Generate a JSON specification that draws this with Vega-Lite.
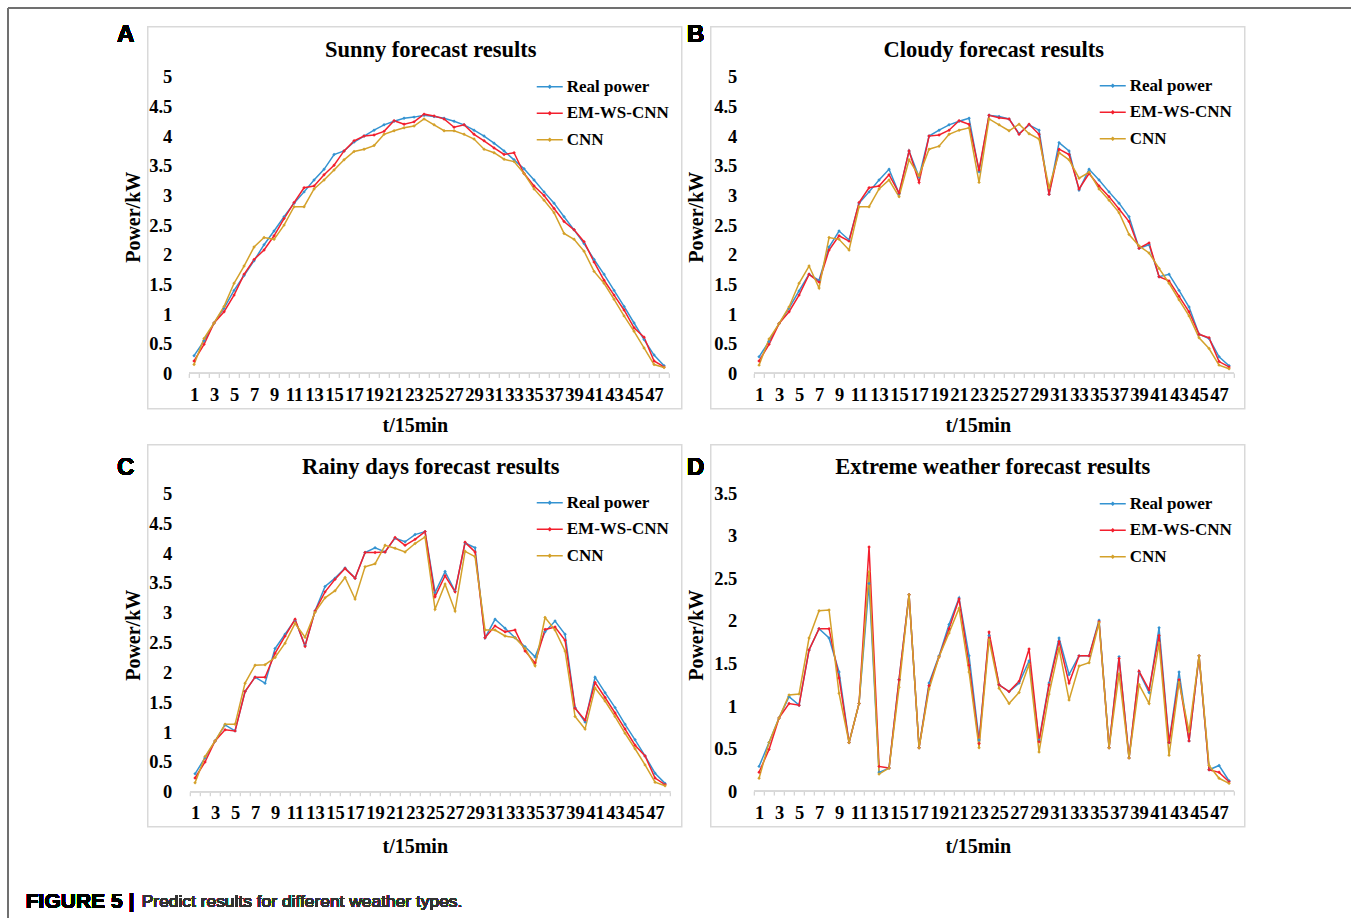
{
"$schema": "https://vega.github.io/schema/vega-lite/v6.json",
"background": "white",
"padding": {"left": 6.75, "top": 5.75, "right": 0, "bottom": 0},
"config": {
  "view": {"stroke": "#d9d9d9", "strokeWidth": 1.5},
  "axis": {"grid": false, "domain": false, "labelOverlap": false, "labelFont": "Liberation Serif", "labelFontWeight": "bold", "labelFontSize": 18.5, "labelColor": "black", "titleFont": "Liberation Serif", "titleFontWeight": "bold", "titleFontSize": 20, "titleColor": "black"},
  "legend": {"labelFont": "Liberation Serif", "labelFontWeight": "bold", "labelFontSize": 17, "labelColor": "black"}
},
"resolve": {"scale": {"color": "independent"}, "legend": {"color": "independent"}},
"columns": 2,
"spacing": {"row": 36, "column": 29},
"bounds": "flush",
"datasets": {
"A": [
{"t":1,"s":"Real power","v":0.30},{"t":2,"s":"Real power","v":0.55},{"t":3,"s":"Real power","v":0.85},{"t":4,"s":"Real power","v":1.10},{"t":5,"s":"Real power","v":1.40},{"t":6,"s":"Real power","v":1.65},{"t":7,"s":"Real power","v":1.90},{"t":8,"s":"Real power","v":2.17},{"t":9,"s":"Real power","v":2.40},{"t":10,"s":"Real power","v":2.64},
{"t":11,"s":"Real power","v":2.87},{"t":12,"s":"Real power","v":3.06},{"t":13,"s":"Real power","v":3.26},{"t":14,"s":"Real power","v":3.44},{"t":15,"s":"Real power","v":3.69},{"t":16,"s":"Real power","v":3.75},{"t":17,"s":"Real power","v":3.90},{"t":18,"s":"Real power","v":4.00},{"t":19,"s":"Real power","v":4.10},{"t":20,"s":"Real power","v":4.19},
{"t":21,"s":"Real power","v":4.25},{"t":22,"s":"Real power","v":4.30},{"t":23,"s":"Real power","v":4.32},{"t":24,"s":"Real power","v":4.35},{"t":25,"s":"Real power","v":4.33},{"t":26,"s":"Real power","v":4.30},{"t":27,"s":"Real power","v":4.25},{"t":28,"s":"Real power","v":4.19},{"t":29,"s":"Real power","v":4.10},{"t":30,"s":"Real power","v":4.00},
{"t":31,"s":"Real power","v":3.88},{"t":32,"s":"Real power","v":3.75},{"t":33,"s":"Real power","v":3.60},{"t":34,"s":"Real power","v":3.45},{"t":35,"s":"Real power","v":3.26},{"t":36,"s":"Real power","v":3.06},{"t":37,"s":"Real power","v":2.87},{"t":38,"s":"Real power","v":2.64},{"t":39,"s":"Real power","v":2.42},{"t":40,"s":"Real power","v":2.19},
{"t":41,"s":"Real power","v":1.92},{"t":42,"s":"Real power","v":1.67},{"t":43,"s":"Real power","v":1.40},{"t":44,"s":"Real power","v":1.13},{"t":45,"s":"Real power","v":0.85},{"t":46,"s":"Real power","v":0.57},{"t":47,"s":"Real power","v":0.31},{"t":48,"s":"Real power","v":0.13},
{"t":1,"s":"EM-WS-CNN","v":0.21},{"t":2,"s":"EM-WS-CNN","v":0.49},{"t":3,"s":"EM-WS-CNN","v":0.85},{"t":4,"s":"EM-WS-CNN","v":1.04},{"t":5,"s":"EM-WS-CNN","v":1.32},{"t":6,"s":"EM-WS-CNN","v":1.67},{"t":7,"s":"EM-WS-CNN","v":1.92},{"t":8,"s":"EM-WS-CNN","v":2.08},{"t":9,"s":"EM-WS-CNN","v":2.32},{"t":10,"s":"EM-WS-CNN","v":2.61},
{"t":11,"s":"EM-WS-CNN","v":2.88},{"t":12,"s":"EM-WS-CNN","v":3.13},{"t":13,"s":"EM-WS-CNN","v":3.16},{"t":14,"s":"EM-WS-CNN","v":3.35},{"t":15,"s":"EM-WS-CNN","v":3.51},{"t":16,"s":"EM-WS-CNN","v":3.75},{"t":17,"s":"EM-WS-CNN","v":3.92},{"t":18,"s":"EM-WS-CNN","v":4.00},{"t":19,"s":"EM-WS-CNN","v":4.02},{"t":20,"s":"EM-WS-CNN","v":4.08},
{"t":21,"s":"EM-WS-CNN","v":4.26},{"t":22,"s":"EM-WS-CNN","v":4.20},{"t":23,"s":"EM-WS-CNN","v":4.24},{"t":24,"s":"EM-WS-CNN","v":4.37},{"t":25,"s":"EM-WS-CNN","v":4.34},{"t":26,"s":"EM-WS-CNN","v":4.29},{"t":27,"s":"EM-WS-CNN","v":4.15},{"t":28,"s":"EM-WS-CNN","v":4.19},{"t":29,"s":"EM-WS-CNN","v":4.03},{"t":30,"s":"EM-WS-CNN","v":3.92},
{"t":31,"s":"EM-WS-CNN","v":3.80},{"t":32,"s":"EM-WS-CNN","v":3.69},{"t":33,"s":"EM-WS-CNN","v":3.72},{"t":34,"s":"EM-WS-CNN","v":3.37},{"t":35,"s":"EM-WS-CNN","v":3.16},{"t":36,"s":"EM-WS-CNN","v":3.00},{"t":37,"s":"EM-WS-CNN","v":2.78},{"t":38,"s":"EM-WS-CNN","v":2.56},{"t":39,"s":"EM-WS-CNN","v":2.42},{"t":40,"s":"EM-WS-CNN","v":2.22},
{"t":41,"s":"EM-WS-CNN","v":1.88},{"t":42,"s":"EM-WS-CNN","v":1.57},{"t":43,"s":"EM-WS-CNN","v":1.32},{"t":44,"s":"EM-WS-CNN","v":1.07},{"t":45,"s":"EM-WS-CNN","v":0.77},{"t":46,"s":"EM-WS-CNN","v":0.61},{"t":47,"s":"EM-WS-CNN","v":0.21},{"t":48,"s":"EM-WS-CNN","v":0.11},
{"t":1,"s":"CNN","v":0.15},{"t":2,"s":"CNN","v":0.59},{"t":3,"s":"CNN","v":0.85},{"t":4,"s":"CNN","v":1.13},{"t":5,"s":"CNN","v":1.52},{"t":6,"s":"CNN","v":1.81},{"t":7,"s":"CNN","v":2.13},{"t":8,"s":"CNN","v":2.29},{"t":9,"s":"CNN","v":2.26},{"t":10,"s":"CNN","v":2.50},
{"t":11,"s":"CNN","v":2.81},{"t":12,"s":"CNN","v":2.81},{"t":13,"s":"CNN","v":3.11},{"t":14,"s":"CNN","v":3.26},{"t":15,"s":"CNN","v":3.43},{"t":16,"s":"CNN","v":3.60},{"t":17,"s":"CNN","v":3.74},{"t":18,"s":"CNN","v":3.78},{"t":19,"s":"CNN","v":3.84},{"t":20,"s":"CNN","v":4.03},
{"t":21,"s":"CNN","v":4.09},{"t":22,"s":"CNN","v":4.14},{"t":23,"s":"CNN","v":4.17},{"t":24,"s":"CNN","v":4.29},{"t":25,"s":"CNN","v":4.19},{"t":26,"s":"CNN","v":4.09},{"t":27,"s":"CNN","v":4.09},{"t":28,"s":"CNN","v":4.03},{"t":29,"s":"CNN","v":3.95},{"t":30,"s":"CNN","v":3.78},
{"t":31,"s":"CNN","v":3.72},{"t":32,"s":"CNN","v":3.61},{"t":33,"s":"CNN","v":3.57},{"t":34,"s":"CNN","v":3.37},{"t":35,"s":"CNN","v":3.11},{"t":36,"s":"CNN","v":2.92},{"t":37,"s":"CNN","v":2.71},{"t":38,"s":"CNN","v":2.36},{"t":39,"s":"CNN","v":2.26},{"t":40,"s":"CNN","v":2.06},
{"t":41,"s":"CNN","v":1.72},{"t":42,"s":"CNN","v":1.52},{"t":43,"s":"CNN","v":1.25},{"t":44,"s":"CNN","v":0.97},{"t":45,"s":"CNN","v":0.71},{"t":46,"s":"CNN","v":0.43},{"t":47,"s":"CNN","v":0.15},{"t":48,"s":"CNN","v":0.10}
],
"B": [
{"t":1,"s":"Real power","v":0.28},{"t":2,"s":"Real power","v":0.54},{"t":3,"s":"Real power","v":0.84},{"t":4,"s":"Real power","v":1.10},{"t":5,"s":"Real power","v":1.39},{"t":6,"s":"Real power","v":1.67},{"t":7,"s":"Real power","v":1.57},{"t":8,"s":"Real power","v":2.13},{"t":9,"s":"Real power","v":2.40},{"t":10,"s":"Real power","v":2.25},
{"t":11,"s":"Real power","v":2.87},{"t":12,"s":"Real power","v":3.06},{"t":13,"s":"Real power","v":3.26},{"t":14,"s":"Real power","v":3.44},{"t":15,"s":"Real power","v":3.03},{"t":16,"s":"Real power","v":3.75},{"t":17,"s":"Real power","v":3.31},{"t":18,"s":"Real power","v":4.00},{"t":19,"s":"Real power","v":4.10},{"t":20,"s":"Real power","v":4.19},
{"t":21,"s":"Real power","v":4.25},{"t":22,"s":"Real power","v":4.30},{"t":23,"s":"Real power","v":3.40},{"t":24,"s":"Real power","v":4.35},{"t":25,"s":"Real power","v":4.33},{"t":26,"s":"Real power","v":4.29},{"t":27,"s":"Real power","v":4.04},{"t":28,"s":"Real power","v":4.19},{"t":29,"s":"Real power","v":4.10},{"t":30,"s":"Real power","v":3.02},
{"t":31,"s":"Real power","v":3.89},{"t":32,"s":"Real power","v":3.75},{"t":33,"s":"Real power","v":3.09},{"t":34,"s":"Real power","v":3.44},{"t":35,"s":"Real power","v":3.26},{"t":36,"s":"Real power","v":3.06},{"t":37,"s":"Real power","v":2.87},{"t":38,"s":"Real power","v":2.64},{"t":39,"s":"Real power","v":2.11},{"t":40,"s":"Real power","v":2.17},
{"t":41,"s":"Real power","v":1.63},{"t":42,"s":"Real power","v":1.67},{"t":43,"s":"Real power","v":1.40},{"t":44,"s":"Real power","v":1.12},{"t":45,"s":"Real power","v":0.66},{"t":46,"s":"Real power","v":0.59},{"t":47,"s":"Real power","v":0.28},{"t":48,"s":"Real power","v":0.13},
{"t":1,"s":"EM-WS-CNN","v":0.21},{"t":2,"s":"EM-WS-CNN","v":0.49},{"t":3,"s":"EM-WS-CNN","v":0.84},{"t":4,"s":"EM-WS-CNN","v":1.04},{"t":5,"s":"EM-WS-CNN","v":1.32},{"t":6,"s":"EM-WS-CNN","v":1.67},{"t":7,"s":"EM-WS-CNN","v":1.54},{"t":8,"s":"EM-WS-CNN","v":2.08},{"t":9,"s":"EM-WS-CNN","v":2.32},{"t":10,"s":"EM-WS-CNN","v":2.23},
{"t":11,"s":"EM-WS-CNN","v":2.88},{"t":12,"s":"EM-WS-CNN","v":3.13},{"t":13,"s":"EM-WS-CNN","v":3.16},{"t":14,"s":"EM-WS-CNN","v":3.35},{"t":15,"s":"EM-WS-CNN","v":3.04},{"t":16,"s":"EM-WS-CNN","v":3.75},{"t":17,"s":"EM-WS-CNN","v":3.22},{"t":18,"s":"EM-WS-CNN","v":4.00},{"t":19,"s":"EM-WS-CNN","v":4.02},{"t":20,"s":"EM-WS-CNN","v":4.10},
{"t":21,"s":"EM-WS-CNN","v":4.26},{"t":22,"s":"EM-WS-CNN","v":4.20},{"t":23,"s":"EM-WS-CNN","v":3.43},{"t":24,"s":"EM-WS-CNN","v":4.35},{"t":25,"s":"EM-WS-CNN","v":4.31},{"t":26,"s":"EM-WS-CNN","v":4.29},{"t":27,"s":"EM-WS-CNN","v":4.03},{"t":28,"s":"EM-WS-CNN","v":4.20},{"t":29,"s":"EM-WS-CNN","v":4.03},{"t":30,"s":"EM-WS-CNN","v":3.02},
{"t":31,"s":"EM-WS-CNN","v":3.78},{"t":32,"s":"EM-WS-CNN","v":3.69},{"t":33,"s":"EM-WS-CNN","v":3.11},{"t":34,"s":"EM-WS-CNN","v":3.37},{"t":35,"s":"EM-WS-CNN","v":3.16},{"t":36,"s":"EM-WS-CNN","v":2.98},{"t":37,"s":"EM-WS-CNN","v":2.77},{"t":38,"s":"EM-WS-CNN","v":2.56},{"t":39,"s":"EM-WS-CNN","v":2.11},{"t":40,"s":"EM-WS-CNN","v":2.20},
{"t":41,"s":"EM-WS-CNN","v":1.63},{"t":42,"s":"EM-WS-CNN","v":1.56},{"t":43,"s":"EM-WS-CNN","v":1.30},{"t":44,"s":"EM-WS-CNN","v":1.04},{"t":45,"s":"EM-WS-CNN","v":0.66},{"t":46,"s":"EM-WS-CNN","v":0.60},{"t":47,"s":"EM-WS-CNN","v":0.20},{"t":48,"s":"EM-WS-CNN","v":0.11},
{"t":1,"s":"CNN","v":0.14},{"t":2,"s":"CNN","v":0.58},{"t":3,"s":"CNN","v":0.84},{"t":4,"s":"CNN","v":1.12},{"t":5,"s":"CNN","v":1.52},{"t":6,"s":"CNN","v":1.81},{"t":7,"s":"CNN","v":1.44},{"t":8,"s":"CNN","v":2.29},{"t":9,"s":"CNN","v":2.26},{"t":10,"s":"CNN","v":2.08},
{"t":11,"s":"CNN","v":2.81},{"t":12,"s":"CNN","v":2.81},{"t":13,"s":"CNN","v":3.11},{"t":14,"s":"CNN","v":3.26},{"t":15,"s":"CNN","v":2.98},{"t":16,"s":"CNN","v":3.60},{"t":17,"s":"CNN","v":3.33},{"t":18,"s":"CNN","v":3.78},{"t":19,"s":"CNN","v":3.83},{"t":20,"s":"CNN","v":4.03},
{"t":21,"s":"CNN","v":4.10},{"t":22,"s":"CNN","v":4.14},{"t":23,"s":"CNN","v":3.22},{"t":24,"s":"CNN","v":4.29},{"t":25,"s":"CNN","v":4.19},{"t":26,"s":"CNN","v":4.09},{"t":27,"s":"CNN","v":4.20},{"t":28,"s":"CNN","v":4.04},{"t":29,"s":"CNN","v":3.95},{"t":30,"s":"CNN","v":3.13},
{"t":31,"s":"CNN","v":3.72},{"t":32,"s":"CNN","v":3.60},{"t":33,"s":"CNN","v":3.29},{"t":34,"s":"CNN","v":3.39},{"t":35,"s":"CNN","v":3.11},{"t":36,"s":"CNN","v":2.92},{"t":37,"s":"CNN","v":2.71},{"t":38,"s":"CNN","v":2.34},{"t":39,"s":"CNN","v":2.15},{"t":40,"s":"CNN","v":2.03},
{"t":41,"s":"CNN","v":1.77},{"t":42,"s":"CNN","v":1.52},{"t":43,"s":"CNN","v":1.24},{"t":44,"s":"CNN","v":0.97},{"t":45,"s":"CNN","v":0.60},{"t":46,"s":"CNN","v":0.42},{"t":47,"s":"CNN","v":0.14},{"t":48,"s":"CNN","v":0.08}
],
"C": [
{"t":1,"s":"Real power","v":0.30},{"t":2,"s":"Real power","v":0.57},{"t":3,"s":"Real power","v":0.85},{"t":4,"s":"Real power","v":1.12},{"t":5,"s":"Real power","v":1.02},{"t":6,"s":"Real power","v":1.68},{"t":7,"s":"Real power","v":1.92},{"t":8,"s":"Real power","v":1.82},{"t":9,"s":"Real power","v":2.40},{"t":10,"s":"Real power","v":2.64},
{"t":11,"s":"Real power","v":2.88},{"t":12,"s":"Real power","v":2.45},{"t":13,"s":"Real power","v":3.03},{"t":14,"s":"Real power","v":3.44},{"t":15,"s":"Real power","v":3.58},{"t":16,"s":"Real power","v":3.75},{"t":17,"s":"Real power","v":3.58},{"t":18,"s":"Real power","v":4.01},{"t":19,"s":"Real power","v":4.09},{"t":20,"s":"Real power","v":4.02},
{"t":21,"s":"Real power","v":4.25},{"t":22,"s":"Real power","v":4.19},{"t":23,"s":"Real power","v":4.31},{"t":24,"s":"Real power","v":4.36},{"t":25,"s":"Real power","v":3.34},{"t":26,"s":"Real power","v":3.69},{"t":27,"s":"Real power","v":3.36},{"t":28,"s":"Real power","v":4.17},{"t":29,"s":"Real power","v":4.09},{"t":30,"s":"Real power","v":2.58},
{"t":31,"s":"Real power","v":2.89},{"t":32,"s":"Real power","v":2.74},{"t":33,"s":"Real power","v":2.58},{"t":34,"s":"Real power","v":2.43},{"t":35,"s":"Real power","v":2.26},{"t":36,"s":"Real power","v":2.68},{"t":37,"s":"Real power","v":2.86},{"t":38,"s":"Real power","v":2.64},{"t":39,"s":"Real power","v":1.41},{"t":40,"s":"Real power","v":1.17},
{"t":41,"s":"Real power","v":1.92},{"t":42,"s":"Real power","v":1.66},{"t":43,"s":"Real power","v":1.41},{"t":44,"s":"Real power","v":1.13},{"t":45,"s":"Real power","v":0.87},{"t":46,"s":"Real power","v":0.60},{"t":47,"s":"Real power","v":0.31},{"t":48,"s":"Real power","v":0.14},
{"t":1,"s":"EM-WS-CNN","v":0.23},{"t":2,"s":"EM-WS-CNN","v":0.50},{"t":3,"s":"EM-WS-CNN","v":0.85},{"t":4,"s":"EM-WS-CNN","v":1.04},{"t":5,"s":"EM-WS-CNN","v":1.02},{"t":6,"s":"EM-WS-CNN","v":1.68},{"t":7,"s":"EM-WS-CNN","v":1.92},{"t":8,"s":"EM-WS-CNN","v":1.92},{"t":9,"s":"EM-WS-CNN","v":2.32},{"t":10,"s":"EM-WS-CNN","v":2.61},
{"t":11,"s":"EM-WS-CNN","v":2.89},{"t":12,"s":"EM-WS-CNN","v":2.44},{"t":13,"s":"EM-WS-CNN","v":3.03},{"t":14,"s":"EM-WS-CNN","v":3.35},{"t":15,"s":"EM-WS-CNN","v":3.56},{"t":16,"s":"EM-WS-CNN","v":3.74},{"t":17,"s":"EM-WS-CNN","v":3.58},{"t":18,"s":"EM-WS-CNN","v":4.01},{"t":19,"s":"EM-WS-CNN","v":4.01},{"t":20,"s":"EM-WS-CNN","v":4.02},
{"t":21,"s":"EM-WS-CNN","v":4.26},{"t":22,"s":"EM-WS-CNN","v":4.13},{"t":23,"s":"EM-WS-CNN","v":4.23},{"t":24,"s":"EM-WS-CNN","v":4.36},{"t":25,"s":"EM-WS-CNN","v":3.27},{"t":26,"s":"EM-WS-CNN","v":3.62},{"t":27,"s":"EM-WS-CNN","v":3.35},{"t":28,"s":"EM-WS-CNN","v":4.18},{"t":29,"s":"EM-WS-CNN","v":4.02},{"t":30,"s":"EM-WS-CNN","v":2.58},
{"t":31,"s":"EM-WS-CNN","v":2.78},{"t":32,"s":"EM-WS-CNN","v":2.68},{"t":33,"s":"EM-WS-CNN","v":2.71},{"t":34,"s":"EM-WS-CNN","v":2.36},{"t":35,"s":"EM-WS-CNN","v":2.16},{"t":36,"s":"EM-WS-CNN","v":2.72},{"t":37,"s":"EM-WS-CNN","v":2.76},{"t":38,"s":"EM-WS-CNN","v":2.54},{"t":39,"s":"EM-WS-CNN","v":1.40},{"t":40,"s":"EM-WS-CNN","v":1.20},
{"t":41,"s":"EM-WS-CNN","v":1.83},{"t":42,"s":"EM-WS-CNN","v":1.58},{"t":43,"s":"EM-WS-CNN","v":1.32},{"t":44,"s":"EM-WS-CNN","v":1.05},{"t":45,"s":"EM-WS-CNN","v":0.78},{"t":46,"s":"EM-WS-CNN","v":0.60},{"t":47,"s":"EM-WS-CNN","v":0.23},{"t":48,"s":"EM-WS-CNN","v":0.12},
{"t":1,"s":"CNN","v":0.15},{"t":2,"s":"CNN","v":0.59},{"t":3,"s":"CNN","v":0.85},{"t":4,"s":"CNN","v":1.13},{"t":5,"s":"CNN","v":1.13},{"t":6,"s":"CNN","v":1.82},{"t":7,"s":"CNN","v":2.12},{"t":8,"s":"CNN","v":2.13},{"t":9,"s":"CNN","v":2.25},{"t":10,"s":"CNN","v":2.49},
{"t":11,"s":"CNN","v":2.82},{"t":12,"s":"CNN","v":2.59},{"t":13,"s":"CNN","v":3.01},{"t":14,"s":"CNN","v":3.25},{"t":15,"s":"CNN","v":3.37},{"t":16,"s":"CNN","v":3.59},{"t":17,"s":"CNN","v":3.23},{"t":18,"s":"CNN","v":3.77},{"t":19,"s":"CNN","v":3.82},{"t":20,"s":"CNN","v":4.13},
{"t":21,"s":"CNN","v":4.08},{"t":22,"s":"CNN","v":4.02},{"t":23,"s":"CNN","v":4.16},{"t":24,"s":"CNN","v":4.27},{"t":25,"s":"CNN","v":3.06},{"t":26,"s":"CNN","v":3.48},{"t":27,"s":"CNN","v":3.03},{"t":28,"s":"CNN","v":4.03},{"t":29,"s":"CNN","v":3.94},{"t":30,"s":"CNN","v":2.71},
{"t":31,"s":"CNN","v":2.71},{"t":32,"s":"CNN","v":2.61},{"t":33,"s":"CNN","v":2.58},{"t":34,"s":"CNN","v":2.40},{"t":35,"s":"CNN","v":2.11},{"t":36,"s":"CNN","v":2.92},{"t":37,"s":"CNN","v":2.71},{"t":38,"s":"CNN","v":2.36},{"t":39,"s":"CNN","v":1.26},{"t":40,"s":"CNN","v":1.05},
{"t":41,"s":"CNN","v":1.74},{"t":42,"s":"CNN","v":1.52},{"t":43,"s":"CNN","v":1.26},{"t":44,"s":"CNN","v":0.98},{"t":45,"s":"CNN","v":0.72},{"t":46,"s":"CNN","v":0.45},{"t":47,"s":"CNN","v":0.16},{"t":48,"s":"CNN","v":0.10}
],
"D": [
{"t":1,"s":"Real power","v":0.29},{"t":2,"s":"Real power","v":0.57},{"t":3,"s":"Real power","v":0.86},{"t":4,"s":"Real power","v":1.11},{"t":5,"s":"Real power","v":1.01},{"t":6,"s":"Real power","v":1.66},{"t":7,"s":"Real power","v":1.91},{"t":8,"s":"Real power","v":1.80},{"t":9,"s":"Real power","v":1.40},{"t":10,"s":"Real power","v":0.57},
{"t":11,"s":"Real power","v":1.03},{"t":12,"s":"Real power","v":2.44},{"t":13,"s":"Real power","v":0.22},{"t":14,"s":"Real power","v":0.27},{"t":15,"s":"Real power","v":1.31},{"t":16,"s":"Real power","v":2.31},{"t":17,"s":"Real power","v":0.51},{"t":18,"s":"Real power","v":1.27},{"t":19,"s":"Real power","v":1.59},{"t":20,"s":"Real power","v":1.96},
{"t":21,"s":"Real power","v":2.27},{"t":22,"s":"Real power","v":1.59},{"t":23,"s":"Real power","v":0.60},{"t":24,"s":"Real power","v":1.83},{"t":25,"s":"Real power","v":1.25},{"t":26,"s":"Real power","v":1.17},{"t":27,"s":"Real power","v":1.27},{"t":28,"s":"Real power","v":1.53},{"t":29,"s":"Real power","v":0.60},{"t":30,"s":"Real power","v":1.27},
{"t":31,"s":"Real power","v":1.80},{"t":32,"s":"Real power","v":1.37},{"t":33,"s":"Real power","v":1.59},{"t":34,"s":"Real power","v":1.59},{"t":35,"s":"Real power","v":2.01},{"t":36,"s":"Real power","v":0.51},{"t":37,"s":"Real power","v":1.58},{"t":38,"s":"Real power","v":0.39},{"t":39,"s":"Real power","v":1.40},{"t":40,"s":"Real power","v":1.16},
{"t":41,"s":"Real power","v":1.92},{"t":42,"s":"Real power","v":0.57},{"t":43,"s":"Real power","v":1.40},{"t":44,"s":"Real power","v":0.59},{"t":45,"s":"Real power","v":1.59},{"t":46,"s":"Real power","v":0.25},{"t":47,"s":"Real power","v":0.30},{"t":48,"s":"Real power","v":0.12},
{"t":1,"s":"EM-WS-CNN","v":0.22},{"t":2,"s":"EM-WS-CNN","v":0.49},{"t":3,"s":"EM-WS-CNN","v":0.86},{"t":4,"s":"EM-WS-CNN","v":1.03},{"t":5,"s":"EM-WS-CNN","v":1.01},{"t":6,"s":"EM-WS-CNN","v":1.66},{"t":7,"s":"EM-WS-CNN","v":1.91},{"t":8,"s":"EM-WS-CNN","v":1.91},{"t":9,"s":"EM-WS-CNN","v":1.33},{"t":10,"s":"EM-WS-CNN","v":0.57},
{"t":11,"s":"EM-WS-CNN","v":1.03},{"t":12,"s":"EM-WS-CNN","v":2.87},{"t":13,"s":"EM-WS-CNN","v":0.29},{"t":14,"s":"EM-WS-CNN","v":0.27},{"t":15,"s":"EM-WS-CNN","v":1.31},{"t":16,"s":"EM-WS-CNN","v":2.31},{"t":17,"s":"EM-WS-CNN","v":0.51},{"t":18,"s":"EM-WS-CNN","v":1.24},{"t":19,"s":"EM-WS-CNN","v":1.58},{"t":20,"s":"EM-WS-CNN","v":1.91},
{"t":21,"s":"EM-WS-CNN","v":2.26},{"t":22,"s":"EM-WS-CNN","v":1.48},{"t":23,"s":"EM-WS-CNN","v":0.56},{"t":24,"s":"EM-WS-CNN","v":1.87},{"t":25,"s":"EM-WS-CNN","v":1.25},{"t":26,"s":"EM-WS-CNN","v":1.17},{"t":27,"s":"EM-WS-CNN","v":1.29},{"t":28,"s":"EM-WS-CNN","v":1.67},{"t":29,"s":"EM-WS-CNN","v":0.58},{"t":30,"s":"EM-WS-CNN","v":1.25},
{"t":31,"s":"EM-WS-CNN","v":1.76},{"t":32,"s":"EM-WS-CNN","v":1.27},{"t":33,"s":"EM-WS-CNN","v":1.59},{"t":34,"s":"EM-WS-CNN","v":1.59},{"t":35,"s":"EM-WS-CNN","v":1.99},{"t":36,"s":"EM-WS-CNN","v":0.51},{"t":37,"s":"EM-WS-CNN","v":1.56},{"t":38,"s":"EM-WS-CNN","v":0.39},{"t":39,"s":"EM-WS-CNN","v":1.41},{"t":40,"s":"EM-WS-CNN","v":1.19},
{"t":41,"s":"EM-WS-CNN","v":1.83},{"t":42,"s":"EM-WS-CNN","v":0.57},{"t":43,"s":"EM-WS-CNN","v":1.31},{"t":44,"s":"EM-WS-CNN","v":0.59},{"t":45,"s":"EM-WS-CNN","v":1.59},{"t":46,"s":"EM-WS-CNN","v":0.25},{"t":47,"s":"EM-WS-CNN","v":0.22},{"t":48,"s":"EM-WS-CNN","v":0.11},
{"t":1,"s":"CNN","v":0.15},{"t":2,"s":"CNN","v":0.57},{"t":3,"s":"CNN","v":0.86},{"t":4,"s":"CNN","v":1.13},{"t":5,"s":"CNN","v":1.14},{"t":6,"s":"CNN","v":1.80},{"t":7,"s":"CNN","v":2.12},{"t":8,"s":"CNN","v":2.13},{"t":9,"s":"CNN","v":1.15},{"t":10,"s":"CNN","v":0.57},
{"t":11,"s":"CNN","v":1.03},{"t":12,"s":"CNN","v":2.58},{"t":13,"s":"CNN","v":0.20},{"t":14,"s":"CNN","v":0.27},{"t":15,"s":"CNN","v":1.22},{"t":16,"s":"CNN","v":2.31},{"t":17,"s":"CNN","v":0.51},{"t":18,"s":"CNN","v":1.20},{"t":19,"s":"CNN","v":1.58},{"t":20,"s":"CNN","v":1.86},
{"t":21,"s":"CNN","v":2.15},{"t":22,"s":"CNN","v":1.40},{"t":23,"s":"CNN","v":0.51},{"t":24,"s":"CNN","v":1.78},{"t":25,"s":"CNN","v":1.21},{"t":26,"s":"CNN","v":1.03},{"t":27,"s":"CNN","v":1.16},{"t":28,"s":"CNN","v":1.49},{"t":29,"s":"CNN","v":0.46},{"t":30,"s":"CNN","v":1.14},
{"t":31,"s":"CNN","v":1.68},{"t":32,"s":"CNN","v":1.07},{"t":33,"s":"CNN","v":1.47},{"t":34,"s":"CNN","v":1.51},{"t":35,"s":"CNN","v":1.98},{"t":36,"s":"CNN","v":0.51},{"t":37,"s":"CNN","v":1.38},{"t":38,"s":"CNN","v":0.39},{"t":39,"s":"CNN","v":1.25},{"t":40,"s":"CNN","v":1.03},
{"t":41,"s":"CNN","v":1.74},{"t":42,"s":"CNN","v":0.42},{"t":43,"s":"CNN","v":1.28},{"t":44,"s":"CNN","v":0.70},{"t":45,"s":"CNN","v":1.59},{"t":46,"s":"CNN","v":0.30},{"t":47,"s":"CNN","v":0.15},{"t":48,"s":"CNN","v":0.09}
]
},
"concat": [
{
  "width": 534, "height": 382,
  "data": {"name": "A"},
  "title": {"text": "Sunny forecast results", "frame": "group", "anchor": "middle", "dx": 16, "dy": 65.25, "offset": 0, "baseline": "middle", "font": "Liberation Serif", "fontSize": 22.5, "fontWeight": "bold", "color": "black"},
  "layer": [
    {"mark": {"type": "line", "strokeWidth": 1.5, "point": {"filled": true, "size": 12, "shape": "diamond"}},
     "encoding": {
       "x": {"field": "t", "type": "quantitative", "scale": {"domain": [-3.63, 49.77], "nice": false, "zero": false},
             "axis": {"values": [0.5,1.5,2.5,3.5,4.5,5.5,6.5,7.5,8.5,9.5,10.5,11.5,12.5,13.5,14.5,15.5,16.5,17.5,18.5,19.5,20.5,21.5,22.5,23.5,24.5,25.5,26.5,27.5,28.5,29.5,30.5,31.5,32.5,33.5,34.5,35.5,36.5,37.5,38.5,39.5,40.5,41.5,42.5,43.5,44.5,45.5,46.5,47.5,48.5], "tickCount": 200,
                      "labelExpr": "datum.value < 48 && (datum.value + 0.5) % 2 == 1 ? format(datum.value + 0.5, 'd') : ''",
                      "labelOffset": 5, "labelOverlap": false, "labelFlush": false, "labelPadding": 17, "labelBaseline": "middle",
                      "tickSize": 4, "tickColor": "#c8c8c8", "tickWidth": 1, "offset": -35.3,
                      "title": "t/15min", "titleY": 52, "titleBaseline": "middle"}},
       "y": {"field": "v", "type": "quantitative", "scale": {"domain": [-0.595, 5.843], "nice": false, "zero": false},
             "axis": {"values": [0,0.5,1,1.5,2,2.5,3,3.5,4,4.5,5], "tickCount": 200, "format": ".1~f", "ticks": false, "labelPadding": 0, "offset": -24, "labelBaseline": "middle", "labelFlush": false, "labelOverlap": false,
                      "title": "Power/kW", "titleX": -38, "titleY": 190, "titleBaseline": "middle", "titleAngle": -90}},
       "color": {"field": "s", "type": "nominal", "scale": {"domain": ["Real power", "EM-WS-CNN", "CNN"], "range": ["#3493D1", "#F31F2D", "#D4A12A"]},
                 "legend": {"orient": "none", "legendX": 388, "legendY": 46, "direction": "vertical", "title": null, "padding": 0, "symbolType": "M-1,0H1M-0.1,0L0,-0.1L0.1,0L0,0.1Z", "symbolSize": 676, "symbolStrokeWidth": 1.5, "labelOffset": 3, "rowPadding": 4.5}}
     }},
    {"mark": {"type": "rule", "color": "#d9d9d9", "strokeWidth": 1.2},
     "encoding": {"x": {"datum": 0.5, "type": "quantitative", "scale": {"domain": [-3.63, 49.77], "nice": false, "zero": false}}, "x2": {"datum": 48.5},
                  "y": {"datum": 0, "type": "quantitative", "scale": {"domain": [-0.595, 5.843], "nice": false, "zero": false}}}},
    {"mark": {"type": "rule", "color": "#707070", "strokeWidth": 1.5},
     "encoding": {"x": {"datum": -17.58, "type": "quantitative", "scale": {"domain": [-3.63, 49.77], "nice": false, "zero": false}}, "x2": {"datum": 116.67},
                  "y": {"datum": 6.155, "type": "quantitative", "scale": {"domain": [-0.595, 5.843], "nice": false, "zero": false}}}},
    {"mark": {"type": "rule", "color": "#707070", "strokeWidth": 1.5},
     "encoding": {"x": {"datum": -17.58, "type": "quantitative", "scale": {"domain": [-3.63, 49.77], "nice": false, "zero": false}},
                  "y": {"datum": 6.155, "type": "quantitative", "scale": {"domain": [-0.595, 5.843], "nice": false, "zero": false}}, "y2": {"datum": -9.206}}},
    {"mark": {"type": "text", "text": "A", "font": "Liberation Sans", "fontSize": 24, "fontWeight": "bold", "align": "center", "baseline": "middle", "color": "black"},
     "encoding": {"x": {"datum": -5.83, "type": "quantitative", "scale": {"domain": [-3.63, 49.77], "nice": false, "zero": false}},
                  "y": {"datum": 5.708, "type": "quantitative", "scale": {"domain": [-0.595, 5.843], "nice": false, "zero": false}}}}
  ]
},
{
  "width": 534, "height": 382,
  "data": {"name": "B"},
  "title": {"text": "Cloudy forecast results", "frame": "group", "anchor": "middle", "dx": 16, "dy": 50, "offset": 0, "baseline": "middle", "font": "Liberation Serif", "fontSize": 22.5, "fontWeight": "bold", "color": "black"},
  "layer": [
    {"mark": {"type": "line", "strokeWidth": 1.5, "point": {"filled": true, "size": 12, "shape": "diamond"}},
     "encoding": {
       "x": {"field": "t", "type": "quantitative", "scale": {"domain": [-3.83, 49.57], "nice": false, "zero": false},
             "axis": {"values": [0.5,1.5,2.5,3.5,4.5,5.5,6.5,7.5,8.5,9.5,10.5,11.5,12.5,13.5,14.5,15.5,16.5,17.5,18.5,19.5,20.5,21.5,22.5,23.5,24.5,25.5,26.5,27.5,28.5,29.5,30.5,31.5,32.5,33.5,34.5,35.5,36.5,37.5,38.5,39.5,40.5,41.5,42.5,43.5,44.5,45.5,46.5,47.5,48.5], "tickCount": 200,
                      "labelExpr": "datum.value < 48 && (datum.value + 0.5) % 2 == 1 ? format(datum.value + 0.5, 'd') : ''",
                      "labelOffset": 5, "labelOverlap": false, "labelFlush": false, "labelPadding": 17, "labelBaseline": "middle",
                      "tickSize": 4, "tickColor": "#c8c8c8", "tickWidth": 1, "offset": -35.3,
                      "title": "t/15min", "titleY": 52, "titleBaseline": "middle"}},
       "y": {"field": "v", "type": "quantitative", "scale": {"domain": [-0.595, 5.843], "nice": false, "zero": false},
             "axis": {"values": [0,0.5,1,1.5,2,2.5,3,3.5,4,4.5,5], "tickCount": 200, "format": ".1~f", "ticks": false, "labelPadding": 0, "offset": -26, "labelBaseline": "middle", "labelFlush": false, "labelOverlap": false,
                      "title": "Power/kW", "titleX": -40, "titleY": 190, "titleBaseline": "middle", "titleAngle": -90}},
       "color": {"field": "s", "type": "nominal", "scale": {"domain": ["Real power", "EM-WS-CNN", "CNN"], "range": ["#3493D1", "#F31F2D", "#D4A12A"]},
                 "legend": {"orient": "none", "legendX": 388, "legendY": 45, "direction": "vertical", "title": null, "padding": 0, "symbolType": "M-1,0H1M-0.1,0L0,-0.1L0.1,0L0,0.1Z", "symbolSize": 676, "symbolStrokeWidth": 1.5, "labelOffset": 3, "rowPadding": 4.5}}
     }},
    {"mark": {"type": "rule", "color": "#d9d9d9", "strokeWidth": 1.2},
     "encoding": {"x": {"datum": 0.5, "type": "quantitative", "scale": {"domain": [-3.83, 49.57], "nice": false, "zero": false}}, "x2": {"datum": 48.5},
                  "y": {"datum": 0, "type": "quantitative", "scale": {"domain": [-0.595, 5.843], "nice": false, "zero": false}}}},
    {"mark": {"type": "text", "text": "B", "font": "Liberation Sans", "fontSize": 24, "fontWeight": "bold", "align": "center", "baseline": "middle", "color": "black"},
     "encoding": {"x": {"datum": -5.33, "type": "quantitative", "scale": {"domain": [-3.83, 49.57], "nice": false, "zero": false}},
                  "y": {"datum": 5.708, "type": "quantitative", "scale": {"domain": [-0.595, 5.843], "nice": false, "zero": false}}}}
  ]
},
{
  "width": 534, "height": 382,
  "data": {"name": "C"},
  "title": {"text": "Rainy days forecast results", "frame": "group", "anchor": "middle", "dx": 16, "dy": 45, "offset": 0, "baseline": "middle", "font": "Liberation Serif", "fontSize": 22.5, "fontWeight": "bold", "color": "black"},
  "layer": [
    {"mark": {"type": "line", "strokeWidth": 1.5, "point": {"filled": true, "size": 12, "shape": "diamond"}},
     "encoding": {
       "x": {"field": "t", "type": "quantitative", "scale": {"domain": [-3.73, 49.67], "nice": false, "zero": false},
             "axis": {"values": [0.5,1.5,2.5,3.5,4.5,5.5,6.5,7.5,8.5,9.5,10.5,11.5,12.5,13.5,14.5,15.5,16.5,17.5,18.5,19.5,20.5,21.5,22.5,23.5,24.5,25.5,26.5,27.5,28.5,29.5,30.5,31.5,32.5,33.5,34.5,35.5,36.5,37.5,38.5,39.5,40.5,41.5,42.5,43.5,44.5,45.5,46.5,47.5,48.5], "tickCount": 200,
                      "labelExpr": "datum.value < 48 && (datum.value + 0.5) % 2 == 1 ? format(datum.value + 0.5, 'd') : ''",
                      "labelOffset": 5, "labelOverlap": false, "labelFlush": false, "labelPadding": 17, "labelBaseline": "middle",
                      "tickSize": 4, "tickColor": "#c8c8c8", "tickWidth": 1, "offset": -35,
                      "title": "t/15min", "titleY": 55, "titleBaseline": "middle"}},
       "y": {"field": "v", "type": "quantitative", "scale": {"domain": [-0.587, 5.816], "nice": false, "zero": false},
             "axis": {"values": [0,0.5,1,1.5,2,2.5,3,3.5,4,4.5,5], "tickCount": 200, "format": ".1~f", "ticks": false, "labelPadding": 0, "offset": -24, "labelBaseline": "middle", "labelFlush": false, "labelOverlap": false,
                      "title": "Power/kW", "titleX": -38, "titleY": 190, "titleBaseline": "middle", "titleAngle": -90}},
       "color": {"field": "s", "type": "nominal", "scale": {"domain": ["Real power", "EM-WS-CNN", "CNN"], "range": ["#3493D1", "#F31F2D", "#D4A12A"]},
                 "legend": {"orient": "none", "legendX": 388, "legendY": 44, "direction": "vertical", "title": null, "padding": 0, "symbolType": "M-1,0H1M-0.1,0L0,-0.1L0.1,0L0,0.1Z", "symbolSize": 676, "symbolStrokeWidth": 1.5, "labelOffset": 3, "rowPadding": 4.5}}
     }},
    {"mark": {"type": "rule", "color": "#d9d9d9", "strokeWidth": 1.2},
     "encoding": {"x": {"datum": 0.5, "type": "quantitative", "scale": {"domain": [-3.73, 49.67], "nice": false, "zero": false}}, "x2": {"datum": 48.5},
                  "y": {"datum": 0, "type": "quantitative", "scale": {"domain": [-0.587, 5.816], "nice": false, "zero": false}}}},
    {"mark": {"type": "text", "text": "C", "font": "Liberation Sans", "fontSize": 24, "fontWeight": "bold", "align": "center", "baseline": "middle", "color": "black"},
     "encoding": {"x": {"datum": -5.93, "type": "quantitative", "scale": {"domain": [-3.73, 49.67], "nice": false, "zero": false}},
                  "y": {"datum": 5.43, "type": "quantitative", "scale": {"domain": [-0.587, 5.816], "nice": false, "zero": false}}}},
    {"mark": {"type": "text", "text": "FIGURE 5 |", "font": "Liberation Sans", "fontSize": 21, "fontWeight": "bold", "align": "left", "baseline": "middle", "color": "black"},
     "encoding": {"x": {"datum": -15.93, "type": "quantitative", "scale": {"domain": [-3.73, 49.67], "nice": false, "zero": false}},
                  "y": {"datum": -1.844, "type": "quantitative", "scale": {"domain": [-0.587, 5.816], "nice": false, "zero": false}}}},
    {"mark": {"type": "text", "text": "Predict results for different weather types.", "font": "Liberation Sans", "fontSize": 17.4, "fontWeight": "normal", "align": "left", "baseline": "middle", "color": "#333333"},
     "encoding": {"x": {"datum": -4.33, "type": "quantitative", "scale": {"domain": [-3.73, 49.67], "nice": false, "zero": false}},
                  "y": {"datum": -1.844, "type": "quantitative", "scale": {"domain": [-0.587, 5.816], "nice": false, "zero": false}}}}
  ]
},
{
  "width": 534, "height": 382,
  "data": {"name": "D"},
  "title": {"text": "Extreme weather forecast results", "frame": "group", "anchor": "middle", "dx": 15, "dy": 45, "offset": 0, "baseline": "middle", "font": "Liberation Serif", "fontSize": 22.5, "fontWeight": "bold", "color": "black"},
  "layer": [
    {"mark": {"type": "line", "strokeWidth": 1.5, "point": {"filled": true, "size": 12, "shape": "diamond"}},
     "encoding": {
       "x": {"field": "t", "type": "quantitative", "scale": {"domain": [-3.83, 49.57], "nice": false, "zero": false},
             "axis": {"values": [0.5,1.5,2.5,3.5,4.5,5.5,6.5,7.5,8.5,9.5,10.5,11.5,12.5,13.5,14.5,15.5,16.5,17.5,18.5,19.5,20.5,21.5,22.5,23.5,24.5,25.5,26.5,27.5,28.5,29.5,30.5,31.5,32.5,33.5,34.5,35.5,36.5,37.5,38.5,39.5,40.5,41.5,42.5,43.5,44.5,45.5,46.5,47.5,48.5], "tickCount": 200,
                      "labelExpr": "datum.value < 48 && (datum.value + 0.5) % 2 == 1 ? format(datum.value + 0.5, 'd') : ''",
                      "labelOffset": 5, "labelOverlap": false, "labelFlush": false, "labelPadding": 17, "labelBaseline": "middle",
                      "tickSize": 4, "tickColor": "#c8c8c8", "tickWidth": 1, "offset": -35.7,
                      "title": "t/15min", "titleY": 55, "titleBaseline": "middle"}},
       "y": {"field": "v", "type": "quantitative", "scale": {"domain": [-0.42, 4.073], "nice": false, "zero": false},
             "axis": {"values": [0,0.5,1,1.5,2,2.5,3,3.5], "tickCount": 200, "format": ".1~f", "ticks": false, "labelPadding": 0, "offset": -26, "labelBaseline": "middle", "labelFlush": false, "labelOverlap": false,
                      "title": "Power/kW", "titleX": -40, "titleY": 190, "titleBaseline": "middle", "titleAngle": -90}},
       "color": {"field": "s", "type": "nominal", "scale": {"domain": ["Real power", "EM-WS-CNN", "CNN"], "range": ["#3493D1", "#F31F2D", "#D4A12A"]},
                 "legend": {"orient": "none", "legendX": 388, "legendY": 45, "direction": "vertical", "title": null, "padding": 0, "symbolType": "M-1,0H1M-0.1,0L0,-0.1L0.1,0L0,0.1Z", "symbolSize": 676, "symbolStrokeWidth": 1.5, "labelOffset": 3, "rowPadding": 4.5}}
     }},
    {"mark": {"type": "rule", "color": "#d9d9d9", "strokeWidth": 1.2},
     "encoding": {"x": {"datum": 0.5, "type": "quantitative", "scale": {"domain": [-3.83, 49.57], "nice": false, "zero": false}}, "x2": {"datum": 48.5},
                  "y": {"datum": 0, "type": "quantitative", "scale": {"domain": [-0.42, 4.073], "nice": false, "zero": false}}}},
    {"mark": {"type": "text", "text": "D", "font": "Liberation Sans", "fontSize": 24, "fontWeight": "bold", "align": "center", "baseline": "middle", "color": "black"},
     "encoding": {"x": {"datum": -5.33, "type": "quantitative", "scale": {"domain": [-3.83, 49.57], "nice": false, "zero": false}},
                  "y": {"datum": 3.803, "type": "quantitative", "scale": {"domain": [-0.42, 4.073], "nice": false, "zero": false}}}}
  ]
}
]
}
